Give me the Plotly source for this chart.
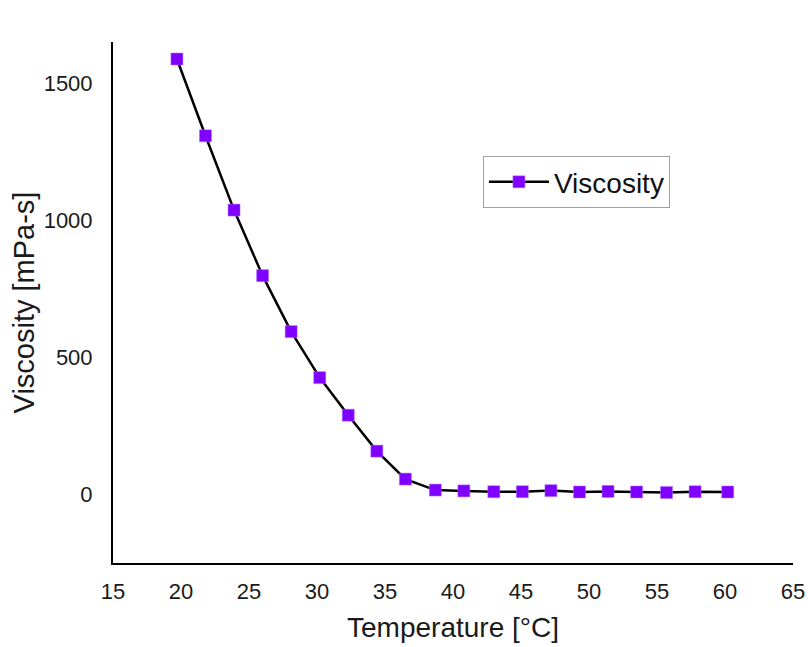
import plotly.graph_objects as go

temperature = [19.7, 21.8, 23.9, 26.0, 28.1, 30.2, 32.3, 34.4, 36.5, 38.7,
               40.8, 43.0, 45.1, 47.2, 49.3, 51.4, 53.5, 55.7, 57.8, 60.2]
viscosity = [1588, 1308, 1037, 798, 594, 426, 289, 158, 56, 16,
             13, 10, 10, 14, 9, 11, 9, 7, 10, 9]

x_ticks = [15, 20, 25, 30, 35, 40, 45, 50, 55, 60, 65]
y_ticks = [0, 500, 1000, 1500]

fig = go.Figure()
fig.add_trace(go.Scatter(
    x=temperature, y=viscosity, mode="lines+markers", name="Viscosity",
    line=dict(color="black", width=2.5),
    marker=dict(symbol="square", size=12, color="#8000FF",
                line=dict(color="#B070FF", width=0.5)),
))

font = "Liberation Sans, Arial, sans-serif"
fig.update_layout(
    width=808, height=647,
    margin=dict(l=113, r=15, t=42, b=84),
    plot_bgcolor="white", paper_bgcolor="white",
    font=dict(family=font, color="#1a1a1a", size=22),
    showlegend=True,
    legend=dict(x=0.544, y=0.781, xanchor="left", yanchor="top",
                bordercolor="#a0a0a0", borderwidth=1,
                font=dict(size=28, family=font, color="#111111"),
                bgcolor="white", itemwidth=60),
    xaxis=dict(range=[15, 65], tickvals=x_ticks, showgrid=False, zeroline=False,
               showline=True, linecolor="black", linewidth=2, ticks="",
               ticklabelstandoff=8, automargin=False,
               tickfont=dict(size=22),
               title=dict(text="Temperature [°C]", font=dict(size=28), standoff=14)),
    yaxis=dict(range=[-250, 1650], tickvals=y_ticks, showgrid=False, zeroline=False,
               showline=True, linecolor="black", linewidth=2, ticks="",
               ticklabelstandoff=14, automargin=False,
               tickfont=dict(size=22),
               title=dict(text="Viscosity [mPa-s]", font=dict(size=29), standoff=0)),
)

fig.write_html(
    "out.html",
    config={"displayModeBar": False},
    post_script="document.body.style.margin='0';document.body.style.overflow='hidden';",
)
